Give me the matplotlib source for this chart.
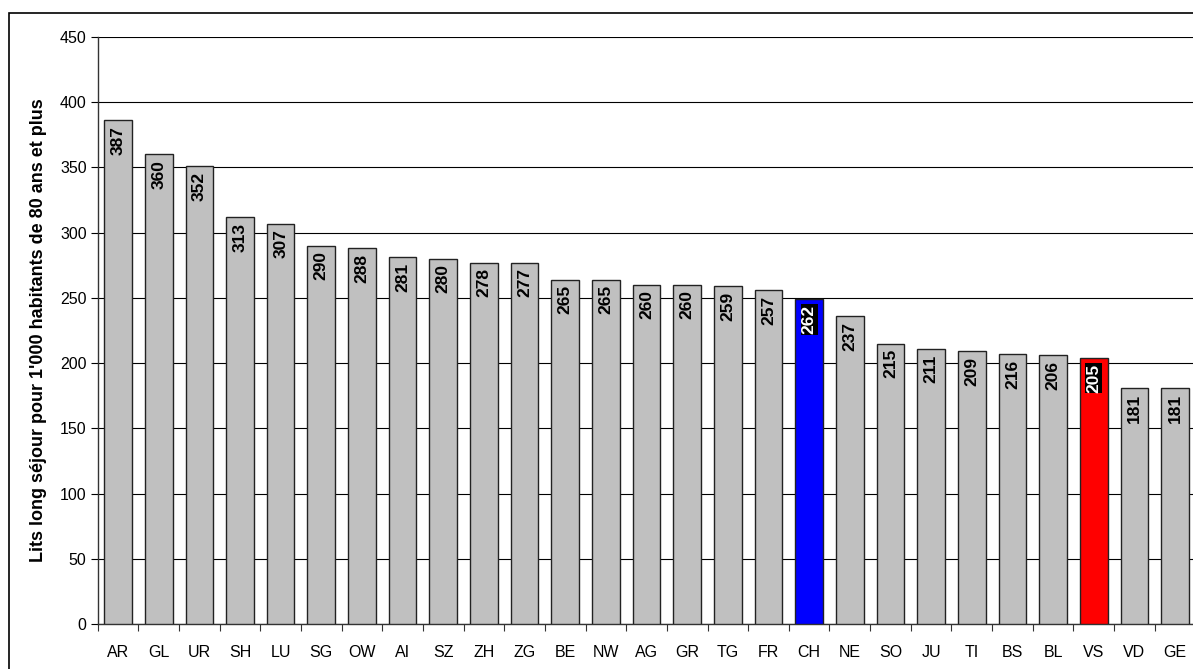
import matplotlib.pyplot as plt
from matplotlib.patches import Rectangle

# -- DATA --
cantons = ["AR", "GL", "UR", "SH", "LU", "SG", "OW", "AI", "SZ", "ZH", "ZG", "BE", "NW", "AG",
           "GR", "TG", "FR", "CH", "NE", "SO", "JU", "TI", "BS", "BL", "VS", "VD", "GE"]
heights = [386, 360, 351, 312, 307, 290, 288, 281, 280, 277, 277, 264, 264, 260,
           260, 259, 256, 249, 236, 215, 211, 209, 207, 206, 204, 181, 181]
labels = [387, 360, 352, 313, 307, 290, 288, 281, 280, 278, 277, 265, 265, 260,
          260, 259, 257, 262, 237, 215, 211, 209, 216, 206, 205, 181, 181]
highlight = {"CH": "#0000FF", "VS": "#FF0000"}
y_title = "Lits long séjour pour 1'000 habitants de 80 ans et plus"
# -- -- -- --

plt.rcParams['font.family'] = ['Liberation Sans', 'DejaVu Sans']

fig = plt.figure(figsize=(11.93, 6.69), dpi=100)
ax = fig.add_axes([97.7 / 1193, 1 - 624 / 669, 1.002 - 97.7 / 1193, (624 - 37) / 669])

# outer chart frame
fig.patches.append(Rectangle((9 / 1193, -0.1), 1.2, 1 - 13 / 669 + 0.1, transform=fig.transFigure,
                             fill=False, edgecolor="black", linewidth=1.2, zorder=0))

xs = list(range(len(cantons)))
colors = [highlight.get(c, "#C0C0C0") for c in cantons]
ax.bar(xs, heights, width=0.68, color=colors, edgecolor="#222222", linewidth=1.0, zorder=3)

for x, h, lab, c in zip(xs, heights, labels, cantons):
    if c in highlight:
        ax.annotate(str(lab), (x, h), xytext=(0, -4), textcoords="offset points",
                    rotation=90, ha="center", va="top", fontsize=12.5, fontweight="bold",
                    color="white", zorder=4,
                    bbox=dict(boxstyle="square,pad=0.05", facecolor="black", edgecolor="none"))
    else:
        ax.annotate(str(lab), (x, h), xytext=(0, -4), textcoords="offset points",
                    rotation=90, ha="center", va="top", fontsize=12.5, fontweight="bold",
                    color="black", zorder=4)

ax.set_xlim(-0.5, len(cantons) - 0.5)
ax.set_ylim(0, 450)
ax.set_yticks(range(0, 451, 50))
ax.yaxis.grid(True, color="black", linewidth=0.8, zorder=0)
ax.set_axisbelow(True)

ax.set_xticks(xs)
ax.set_xticklabels(cantons, fontsize=11.5)
ax.set_xticks([i - 0.5 for i in range(len(cantons) + 1)], minor=True)
ax.tick_params(axis="x", which="major", length=0, pad=15)
ax.tick_params(axis="x", which="minor", length=5, width=0.8, direction="out", color="#333333")
ax.tick_params(axis="y", length=5, width=0.8, direction="out", labelsize=11.5, pad=3)

for s in ["top", "right"]:
    ax.spines[s].set_visible(False)
for s in ["left", "bottom"]:
    ax.spines[s].set_color("#333333")
    ax.spines[s].set_linewidth(1.0)

ax.set_ylabel(y_title, fontsize=13, fontweight="bold", labelpad=9)

fig.savefig("out.png", dpi=100)
